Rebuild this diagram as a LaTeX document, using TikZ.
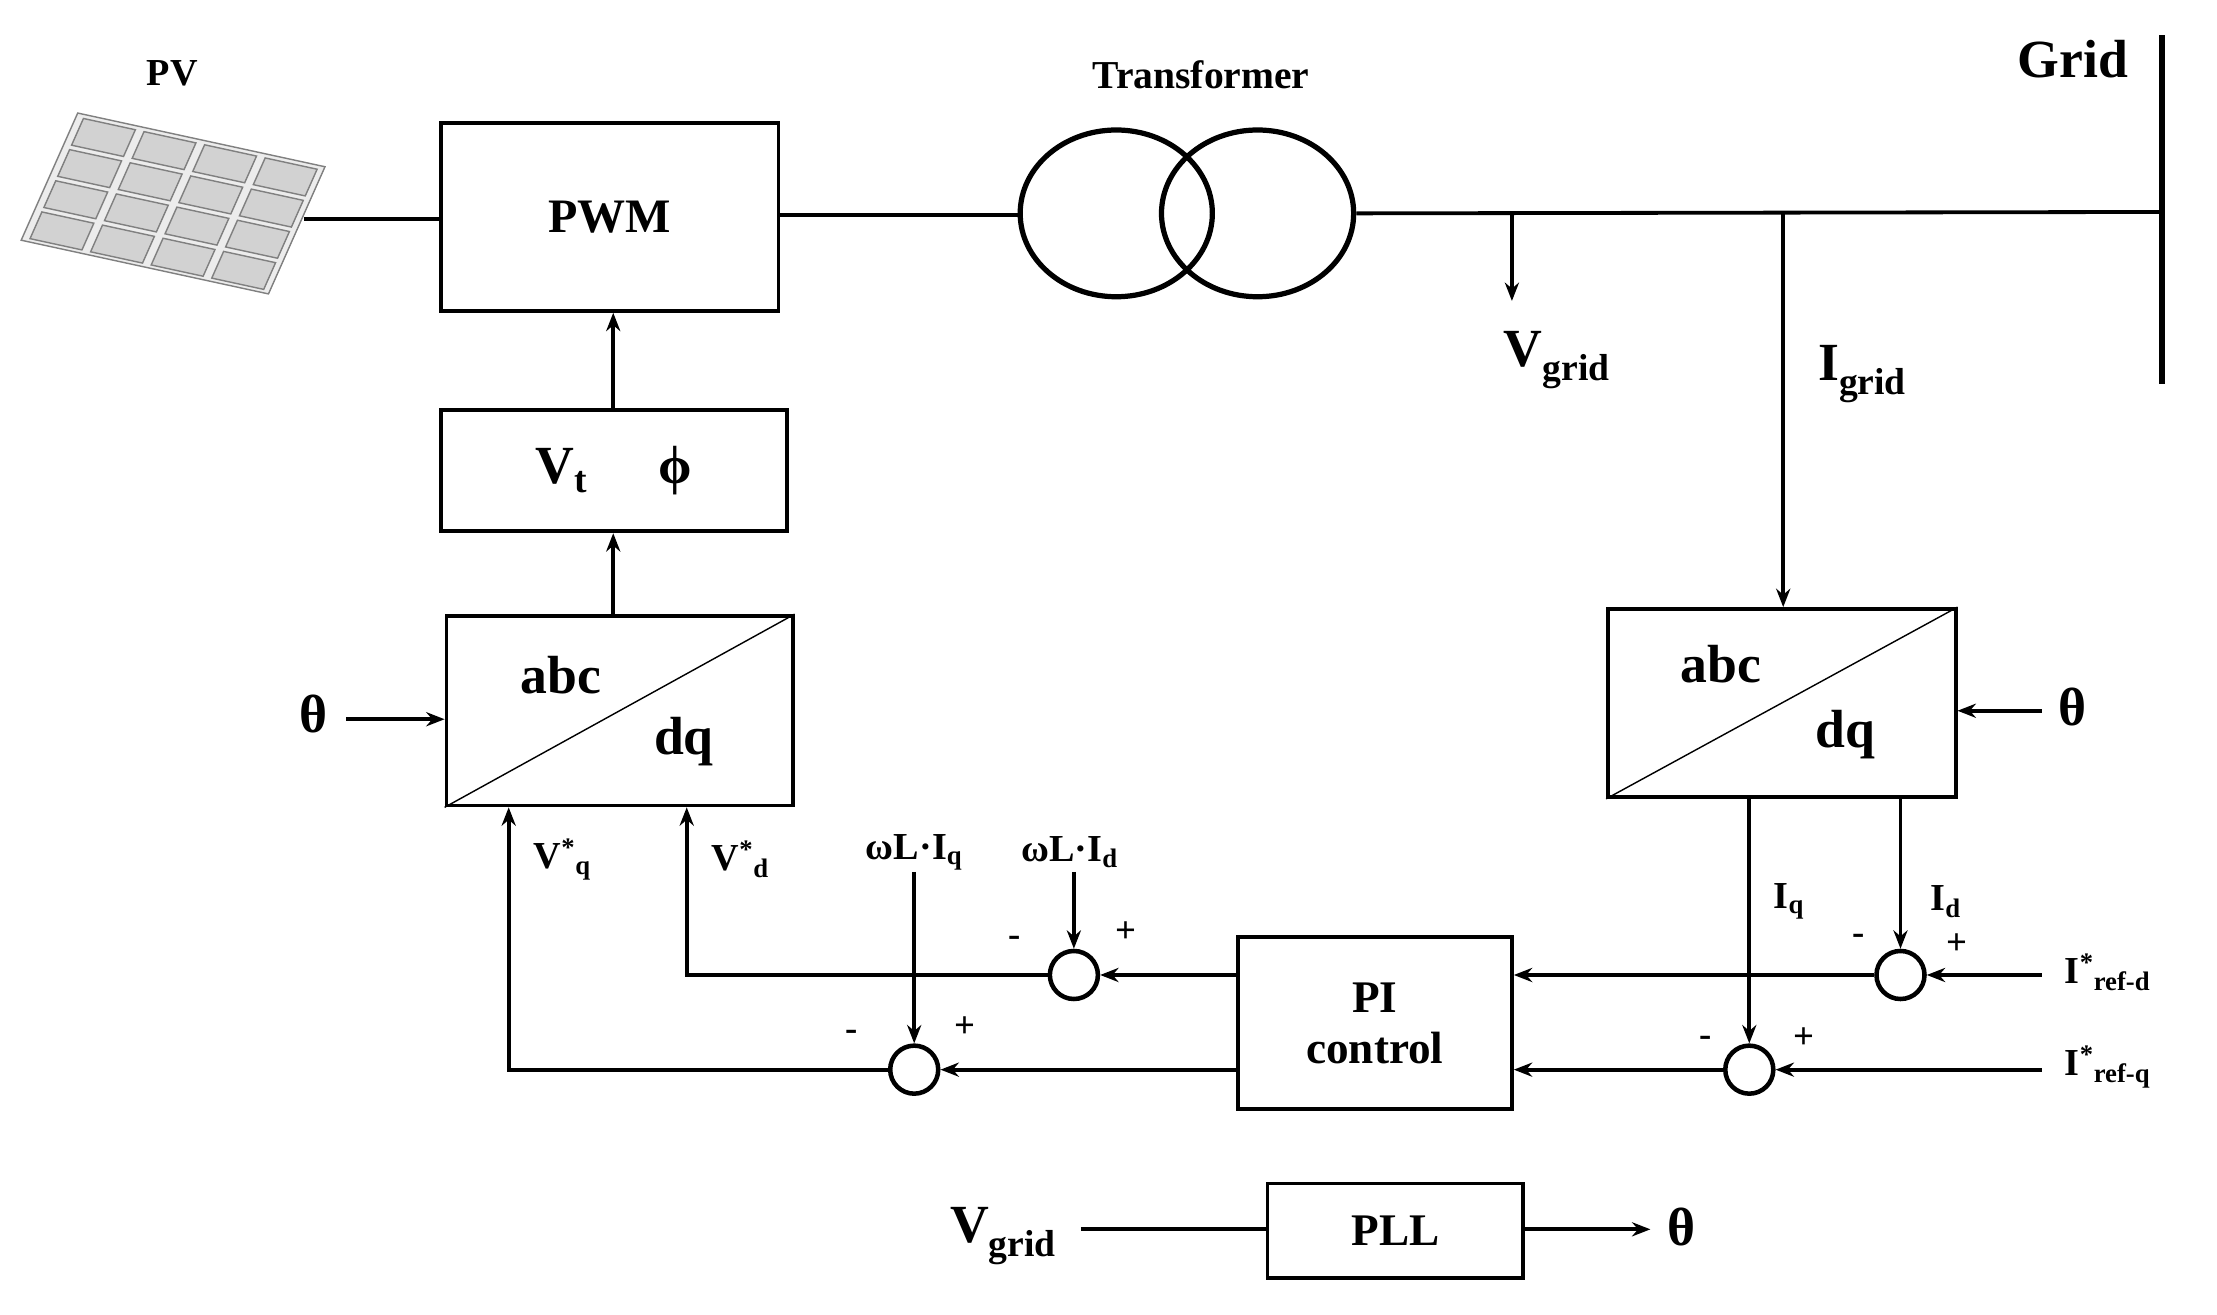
\documentclass[tikz,border=0pt]{standalone}
\usepackage{fontspec}
\setmainfont{Liberation Serif}
\usetikzlibrary{arrows.meta,shapes.geometric}
\newcommand{\fs}[1]{\fontsize{#1}{#1}\selectfont\bfseries}
\begin{document}
\begin{tikzpicture}[x=1pt,y=-1pt,line width=2.7pt,
  box/.style={draw,inner sep=0,line width=2.7pt},
  sum/.style={draw,circle,minimum size=34,inner sep=0,line width=3.2pt},
  arr/.style={-{Stealth[length=13,width=10]}},
  lbl/.style={inner sep=0,font=\fs{27}}]
\useasboundingbox (0,0) rectangle (1569,930);
% PV panel
\begin{scope}[shift={(55,80)},x={(1.75pt,-0.38pt)},y={(-0.4pt,-0.9pt)},line width=1pt]
\draw[fill=gray!15,draw=gray] (0,0) -- (100,0) -- (100,100) -- (0,100) -- cycle;
\foreach \i in {0,...,3}{\foreach \j in {0,...,3}{
  \draw[fill=gray!35,draw=gray] (3+\i*24.5,3+\j*24.5) -- ++(21,0) -- ++(0,21) -- ++(-21,0) -- cycle;}}
\end{scope}
\node[font=\fs{27}] (pvl) at (122,52) {PV};
\coordinate (pvo) at (215,155);
\node[box,minimum width=239,minimum height=133,font=\fs{34}] (pwm) at (431.5,153.5) {PWM};
\draw (pvo) -- (pwm.west |- pvo);
% transformer
\node[draw,ellipse,minimum width=136,minimum height=118,line width=3.7pt] (t1) at (790,151) {};
\node[draw,ellipse,minimum width=136,minimum height=118,line width=3.7pt] (t2) at (890,151) {};
\node[font=\fs{28}] (tl) at (850,53) {Transformer};
\draw (pwm.east |- 0,152) -- (t1.west |- 0,152);
\coordinate (bus) at (1530,150);
\draw (t2.east) -- (bus);
\draw[line width=4pt] (1530,25) -- (1530,272);
\node[font=\fs{38}] (gl) at (1467,42) {Grid};
\coordinate (vt) at (1070,150);
\coordinate (vb) at (1070,213);
\draw[arr] (vt) -- (vb);
\node[font=\fs{38}] (vgl) at (1102,255) {V\textsubscript{grid}};
% left chain
\node[box,minimum width=245,minimum height=86,font=\fs{38}] (vtb) at (434.5,333) {V\textsubscript{t}\hspace{50pt}ϕ};
\draw[arr] (vtb.north -| 434,0) -- (pwm.south -| 434,0);
\node[box,minimum width=245,minimum height=134] (ad1) at (438.5,503) {};
\draw[line width=1pt] (ad1.south west) -- (ad1.north east);
\node[font=\fs{38}] at (397,478) {abc};
\node[font=\fs{38}] at (484,525) {dq};
\draw[arr] (ad1.north -| 434,0) -- (vtb.south -| 434,0);
\node[font=\fs{38}] (th1) at (222,505) {θ};
\draw[arr] (245,509) -- (ad1.west |- 0,509);
% sums
\node[sum] (s1) at (760,690) {};
\node[sum] (s2) at (647,757) {};
\node[sum] (s3) at (1345,690) {};
\node[sum] (s4) at (1238,757) {};
\node[box,minimum width=194,minimum height=122,align=center,font=\fs{32}] (pi) at (973,724) {PI\\[4pt]control};
\draw[arr] (pi.west |- s1) -- (s1);
\draw[arr] (pi.west |- s2) -- (s2);
\draw[arr] (s1.west) -- (486,690) -- (ad1.south -| 486,0);
\draw[arr] (s2.west) -- (360,757) -- (ad1.south -| 360,0);
\node[lbl] at (398,608) {V\textsuperscript{*}\textsubscript{q}};
\node[lbl] at (524,608) {V\textsuperscript{*}\textsubscript{d}};
\node[lbl] (wq) at (647,603) {ωL·I\textsubscript{q}};
\node[lbl] (wd) at (757,603) {ωL·I\textsubscript{d}};
\draw[arr] (647,617) -- (s2.north);
\draw[arr] (760,617) -- (s1.north);
% right chain
\node[box,minimum width=246,minimum height=133] (ad2) at (1261,497.5) {};
\draw[line width=1pt] (ad2.south west) -- (ad2.north east);
\node[font=\fs{38}] at (1218,470) {abc};
\node[font=\fs{38}] at (1306,520) {dq};
\draw[arr] (1262,150) -- (ad2.north -| 1262,0);
\node[font=\fs{38}] (igl) at (1318,265) {I\textsubscript{grid}};
\node[font=\fs{38}] (th2) at (1467,500) {θ};
\draw[arr] (1445,503) -- (ad2.east |- 0,503);
\draw[arr] (ad2.south -| 1238,0) -- (s4.north);
\draw[arr] (ad2.south -| 1345,0) -- (s3.north);
\node[lbl] at (1266,638) {I\textsubscript{q}};
\node[lbl] at (1377,638) {I\textsubscript{d}};
\draw[arr] (s3.west) -- (pi.east |- s3);
\draw[arr] (s4.west) -- (pi.east |- s4);
\coordinate (rd) at (1445,690);
\coordinate (rq) at (1445,757);
\draw[arr] (rd) -- (s3.east);
\draw[arr] (rq) -- (s4.east);
\node[lbl,anchor=west] at (1460,688) {I\textsuperscript{*}\textsubscript{ref-d}};
\node[lbl,anchor=west] at (1460,755) {I\textsuperscript{*}\textsubscript{ref-q}};
% signs
\foreach \p/\t in {{718,666}/-,{797,660}/+,{603,733}/-,{683,727}/+,{1315,665}/-,{1385,668}/+,{1207,737}/-,{1277,735}/+}
  \node[font=\fs{26}] at (\p) {\t};
% PLL
\node[box,minimum width=181,minimum height=67,font=\fs{32}] (pll) at (987.5,871) {PLL};
\node[font=\fs{38}] (vg2) at (710,875) {V\textsubscript{grid}};
\draw (765,870) -- (pll.west |- 0,870);
\coordinate (pllo) at (1168,870);
\draw[arr] (pll.east |- 0,870) -- (pllo);
\node[font=\fs{38}] (th3) at (1190,868) {θ};
\end{tikzpicture}
\end{document}
